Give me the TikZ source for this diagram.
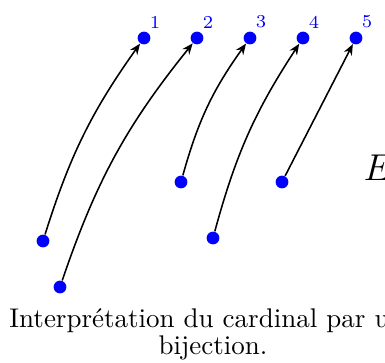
\documentclass[tikz,border=0pt]{standalone}
\usepackage{fontspec}
\usetikzlibrary{arrows.meta}
\begin{document}
\begin{tikzpicture}[x=0.385pt,y=-0.385pt,
  dot/.style={circle,fill=blue,inner sep=0pt,minimum size=4.9pt},
  lab/.style={text=blue,font=\scriptsize,inner sep=0pt},
  arr/.style={-{Stealth[length=4.2pt,width=3.4pt]},line width=0.6pt},
  captxt/.style={anchor=base,inner sep=0pt,font=\fontsize{10.4}{12.5}\selectfont}]
\useasboundingbox (0,0) rectangle (385,362);
\clip (0,0) rectangle (385,362);
% top set
\node[dot] (t1) at (144,38) {};
\node[dot] (t2) at (197,38) {};
\node[dot] (t3) at (250,38) {};
\node[dot] (t4) at (303,38) {};
\node[dot] (t5) at (356,38) {};
\node[lab] (l1) at (155,22) {1};
\node[lab] (l2) at (208,22) {2};
\node[lab] (l3) at (261,22) {3};
\node[lab] (l4) at (314,22) {4};
\node[lab] (l5) at (367,22) {5};
% set E
\node[dot] (a) at (43,241) {};
\node[dot] (b) at (60,287) {};
\node[dot] (c) at (181,182) {};
\node[dot] (d) at (213,238) {};
\node[dot] (e) at (282,182) {};
\node[anchor=base west,inner sep=0pt,font=\fontsize{15.8}{19}\selectfont] (E) at (363,180) {$E$};
% bijection
\draw[arr] (a) to[bend left=9] (t1);
\draw[arr] (b) to[bend left=10] (t2);
\draw[arr] (c) to[bend left=10] (t3);
\draw[arr] (d) to[bend left=9] (t4);
\draw[arr] (e) -- (t5);
% caption
\node[captxt] (cap1) at (213,327) {Interprétation du cardinal par une};
\node[captxt] (cap2) at (213,354) {bijection.};
\end{tikzpicture}
\end{document}
